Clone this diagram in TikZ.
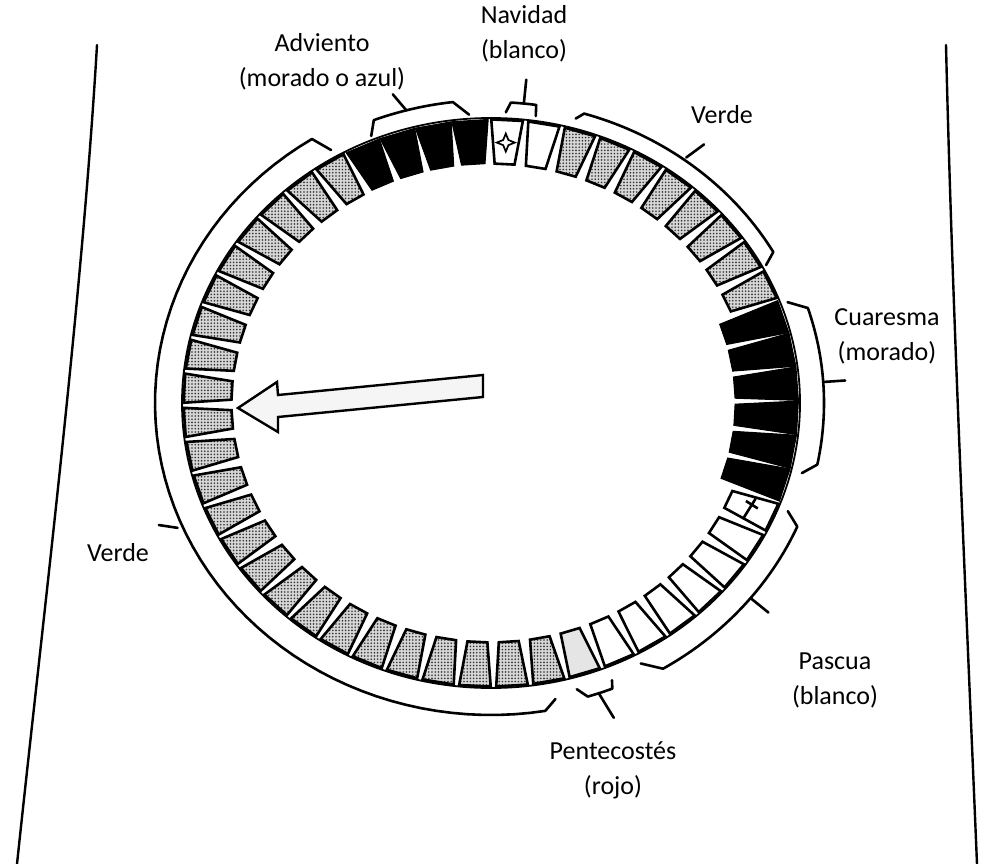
\documentclass[tikz,border=0pt]{standalone}
\usepackage{fontspec}
\setmainfont{Carlito}
\usetikzlibrary{patterns.meta}
\def\CX{491}\def\CY{403}\def\RX{309}\def\RY{285}
\newcommand{\segment}[5]{%
  \pgfmathsetmacro{\sA}{87-#1*6.9230769}%
  \draw[#2] ({\CX+0.995*\RX*cos(\sA+#3)},{\CY-0.995*\RY*sin(\sA+#3)})
     -- ({\CX+0.995*\RX*cos(\sA-#3)},{\CY-0.995*\RY*sin(\sA-#3)})
     -- ({\CX+#5*\RX*cos(\sA-#4)},{\CY-#5*\RY*sin(\sA-#4)})
     -- ({\CX+#5*\RX*cos(\sA+#4)},{\CY-#5*\RY*sin(\sA+#4)}) -- cycle;}
\newcommand{\brkt}[7]{%
  \draw[brk] ({\CX+(\RX+#5)*cos(#4)},{\CY-(\RY+#5)*sin(#4)})
   -- plot[domain=#1:#2, samples=60, variable=\t] ({\CX+(\RX+#3)*cos(\t)},{\CY-(\RY+#3)*sin(\t)})
   -- ({\CX+(\RX+#7)*cos(#6)},{\CY-(\RY+#7)*sin(#6)});}
\newcommand{\ticker}[4]{%
  \draw[brk] ({\CX+(\RX+#2)*cos(#1)},{\CY-(\RY+#2)*sin(#1)})
   -- ({\CX+(\RX+#4)*cos(#3)},{\CY-(\RY+#4)*sin(#3)});}
\begin{document}
\begin{tikzpicture}[x=1pt,y=-1pt,
  seg/.style={line width=2.6pt, line join=miter},
  greyseg/.style={seg, draw=black, preaction={fill=gray!32}, pattern={Dots[radius=0.9pt,distance=3.2pt]}, pattern color=black!80},
  blackseg/.style={line width=1pt, draw=black, fill=black},
  whiteseg/.style={seg, draw=black, fill=white},
  pentseg/.style={seg, draw=black, fill=gray!20},
  brk/.style={line width=2.6pt, line cap=round, line join=round},
  ring/.style={line width=1.8pt},
  side/.style={line width=2.4pt, line cap=round},
  lbl/.style={font=\fontsize{26}{35}\selectfont, align=center, inner sep=0pt},
  arrowshape/.style={line width=2.4pt, fill=gray!8, line join=miter}]
\useasboundingbox (0,0) rectangle (991,864);
\fill[white] (0,0) rectangle (991,864);
% side lines
\draw[side] (97,45) .. controls (82,300) and (45,600) .. (17,864);
\draw[side] (946,45) .. controls (952,300) and (966,600) .. (977,864);
% ring
\draw[ring] (\CX,\CY) ellipse [x radius=309pt, y radius=285pt];
% segments
\segment{0}{whiteseg}{2.95}{2.2}{0.84}
\segment{1}{whiteseg}{2.95}{2.2}{0.84}
\foreach \k in {2,...,9} {\segment{\k}{greyseg}{2.95}{2.2}{0.84}}
\foreach \k in {10,...,15} {\segment{\k}{blackseg}{3.4}{2.7}{0.79}}
\segment{16}{whiteseg}{2.95}{2.2}{0.84}
\foreach \k in {17,...,22} {\segment{\k}{whiteseg}{2.95}{2.2}{0.84}}
\segment{23}{pentseg}{2.95}{2.2}{0.84}
\foreach \k in {24,...,47} {\segment{\k}{greyseg}{2.95}{2.2}{0.84}}
\foreach \k in {48,...,51} {\segment{\k}{blackseg}{3.4}{2.6}{0.84}}
% star in Navidad box
\pgfmathsetmacro{\stx}{\CX+0.915*\RX*cos(87)}
\pgfmathsetmacro{\sty}{\CY-0.915*\RY*sin(87)}
\draw[line width=1.7pt, line join=miter] (\stx,\sty-9) -- (\stx+2.6,\sty-2.6) -- (\stx+9,\sty) -- (\stx+2.6,\sty+2.6)
  -- (\stx,\sty+9) -- (\stx-2.6,\sty+2.6) -- (\stx-9,\sty) -- (\stx-2.6,\sty-2.6) -- cycle;
% cross in cross box
\pgfmathsetmacro{\crx}{\CX+0.915*\RX*cos(87-16*6.9230769)}
\pgfmathsetmacro{\cry}{\CY-0.915*\RY*sin(87-16*6.9230769)}
\begin{scope}[shift={(\crx,\cry)}, rotate=58]
  \draw[line width=2.6pt] (-13,0) -- (11,0);
  \draw[line width=2.6pt] (4,-7) -- (4,7);
\end{scope}
% brackets
\brkt{111}{96.7}{18}{112.5}{4}{94}{4}
\ticker{105}{18}{106.5}{37}
\brkt{86.5}{82}{16}{87.3}{6}{81.8}{5}
\ticker{84.2}{16}{84.2}{40}
\brkt{73.4}{30}{17}{74.6}{10}{28.5}{4}
\ticker{53.6}{20}{52.5}{41}
\brkt{17.9}{-11.5}{24}{20.2}{7}{-13.7}{11}
\ticker{3.9}{24}{3.9}{46}
\brkt{-23.5}{-59}{25}{-21.5}{10}{-62}{10}
\ticker{-39}{26}{-39}{48}
\brkt{-73}{-68.5}{22}{-74.5}{12}{-68}{14}
\ticker{-71}{22}{-70}{50}
\brkt{122.2}{279.3}{27}{120.3}{8}{281.4}{17}
\ticker{203.2}{32}{201.5}{48}
% arrow
\draw[arrowshape] (483,375) -- (483,397) -- (278,417) -- (278,432) -- (238,408)
  -- (277,382) -- (278,395) -- cycle;
% labels
\node[lbl] (adv) at (322,62) {Adviento\\(morado o azul)};
\node[lbl] (nav) at (524,34) {Navidad\\(blanco)};
\node[lbl] (ver1) at (722,115) {Verde};
\node[lbl] (cua) at (887,336) {Cuaresma\\(morado)};
\node[lbl] (ver2) at (118,553) {Verde};
\node[lbl] (pas) at (835,680) {Pascua\\(blanco)};
\node[lbl] (pen) at (613,770) {Pentecostés\\(rojo)};
\end{tikzpicture}
\end{document}
